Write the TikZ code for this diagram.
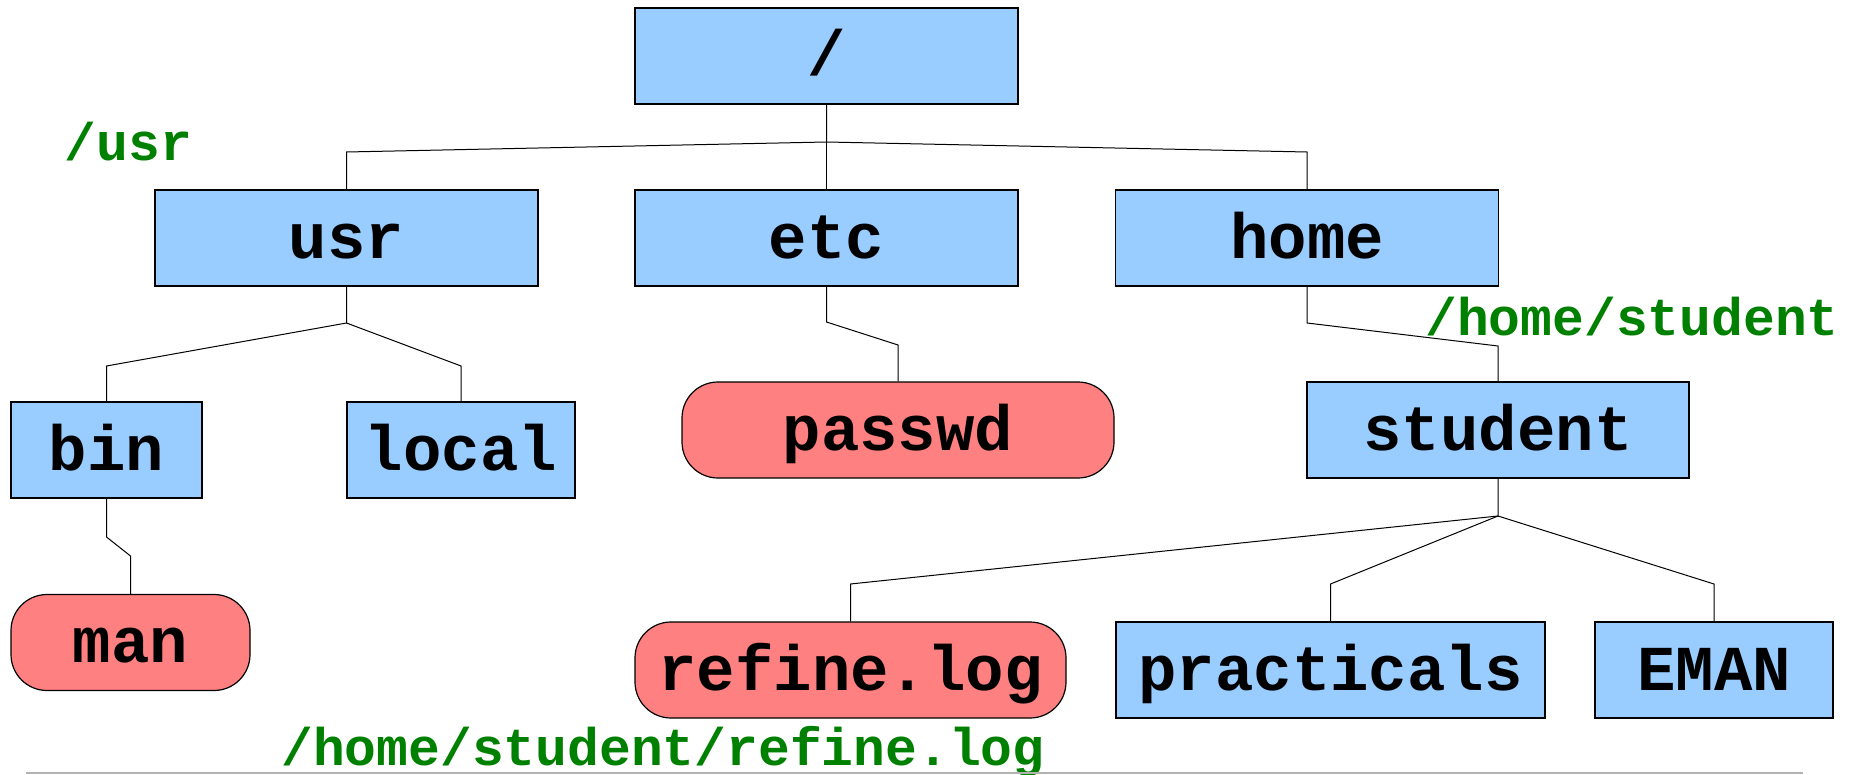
\documentclass[tikz,border=0pt]{standalone}
\usepackage{fontspec}
\setmonofont{Liberation Mono}
\usepackage{xcolor}
\usepackage{tikz}
\definecolor{dirblue}{HTML}{99CCFF}
\definecolor{filered}{HTML}{FF8080}
\definecolor{pathgreen}{HTML}{008000}
\tikzset{
  dirbox/.style={draw=black,line width=0.6pt,fill=dirblue,minimum height=48pt,inner sep=0pt,
    text height=25pt,text depth=5pt,font=\fontsize{32}{38}\selectfont\ttfamily\bfseries},
  filebox/.style={dirbox,fill=filered,rounded corners=18pt},
  pathlabel/.style={text=pathgreen,inner sep=0pt,font=\fontsize{26.5}{30}\selectfont\ttfamily\bfseries},
  branch/.style={line width=0.5pt}
}

\begin{document}
\begin{tikzpicture}[x=0.5pt,y=-0.5pt]
\useasboundingbox (0,0) rectangle (1851,775);

\node[dirbox,minimum width=191.5pt] (root) at (826.5,56) {/};
\node[dirbox,minimum width=191.5pt] (usr) at (346.5,238) {usr};
\node[dirbox,minimum width=191.5pt] (etc) at (826.5,238) {etc};
\node[dirbox,minimum width=191.5pt] (home) at (1307,238) {home};
\node[dirbox,minimum width=95.5pt] (bin) at (106.5,450) {bin};
\node[dirbox,minimum width=114pt] (local) at (461,450) {local};
\node[filebox,minimum width=216pt] (passwd) at (898,430) {passwd};
\node[dirbox,minimum width=191pt] (student) at (1498,430) {student};
\node[filebox,minimum width=119.5pt] (man) at (130.5,642.5) {man};
\node[filebox,minimum width=215.5pt] (refine) at (850.5,670) {refine.log};
\node[dirbox,minimum width=214.5pt] (practicals) at (1330.5,670) {practicals};
\node[dirbox,minimum width=119pt] (eman) at (1714,670) {EMAN};

\coordinate (rootfork) at (826.5,142);
\coordinate (usrbend) at (346.5,152);
\coordinate (homebend) at (1307,152);
\coordinate (usrfork) at (346.5,323);
\coordinate (binbend) at (106.5,366);
\coordinate (localbend) at (461,366);
\coordinate (etcfork) at (826.5,322);
\coordinate (passwdbend) at (898,345);
\coordinate (homefork) at (1307,323);
\coordinate (studentbend) at (1498,346);
\coordinate (binfork) at (106.5,537);
\coordinate (manbend) at (130.5,556);
\coordinate (studentfork) at (1498,516);
\coordinate (refinebend) at (850.5,584);
\coordinate (practbend) at (1330.5,584);
\coordinate (emanbend) at (1714,584);

\draw[branch] (root) -- (rootfork) -- (usrbend) -- (usr);
\draw[branch] (rootfork) -- (homebend) -- (home);
\draw[branch] (root) -- (etc);
\draw[branch] (usr) -- (usrfork) -- (binbend) -- (bin);
\draw[branch] (usrfork) -- (localbend) -- (local);
\draw[branch] (etc) -- (etcfork) -- (passwdbend) -- (passwd);
\draw[branch] (home) -- (homefork) -- (studentbend) -- (student);
\draw[branch] (bin) -- (binfork) -- (manbend) -- (man);
\draw[branch] (student) -- (studentfork) -- (refinebend) -- (refine);
\draw[branch] (studentfork) -- (practbend) -- (practicals);
\draw[branch] (studentfork) -- (emanbend) -- (eman);

\node[pathlabel] (usrpath) at (128.5,142) {/usr};
\node[pathlabel] (studentpath) at (1632,317) {/home/student};
\node[pathlabel] (refinepath) at (663,752) {/home/student/refine.log};

\draw[gray!60,line width=1pt] (26,773) -- (1803,773);
\end{tikzpicture}
\end{document}
